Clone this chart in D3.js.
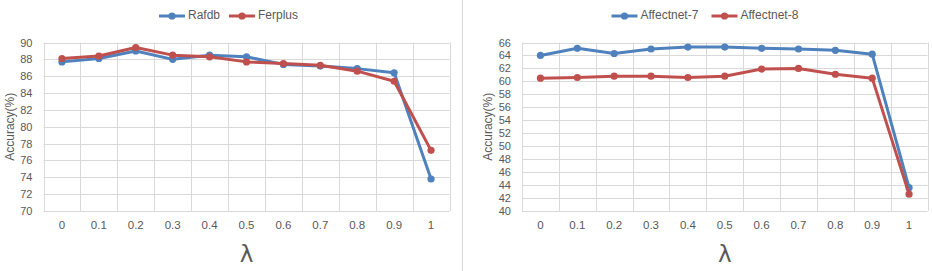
<!DOCTYPE html>
<html>
<head>
<meta charset="utf-8">
<script src="https://cdn.jsdelivr.net/npm/d3@7"></script>
<style>
  body { margin: 0; background: #fff; }
  text { font-family: "Liberation Sans", "Open Sans", sans-serif; }
</style>
</head>
<body>
<svg id="chart" width="932" height="271"></svg>
<script>
const lambdas = ["0", "0.1", "0.2", "0.3", "0.4", "0.5", "0.6", "0.7", "0.8", "0.9", "1"];

const rafdb    = [87.7, 88.1, 89.0, 88.0, 88.5, 88.3, 87.4, 87.2, 86.9, 86.4, 73.8];
const ferplus  = [88.1, 88.4, 89.4, 88.5, 88.3, 87.7, 87.5, 87.3, 86.6, 85.4, 77.2];
const affect7  = [64.0, 65.1, 64.3, 65.0, 65.3, 65.3, 65.1, 65.0, 64.8, 64.2, 43.6];
const affect8  = [60.5, 60.6, 60.8, 60.8, 60.6, 60.8, 61.9, 62.0, 61.1, 60.5, 42.6];

const leftTicks  = [70, 72, 74, 76, 78, 80, 82, 84, 86, 88, 90];
const rightTicks = [40, 42, 44, 46, 48, 50, 52, 54, 56, 58, 60, 62, 64, 66];

const BLUE = "#4F81BD", RED = "#C0504D", GRID = "#d9d9d9", TXT = "#595959";
const FONT = '"Liberation Sans", "Open Sans", sans-serif';

const svg = d3.select("#chart");

// divider between panels
svg.append("line").attr("x1", 462.5).attr("x2", 462.5).attr("y1", 0).attr("y2", 271)
  .attr("stroke", "#d9d9d9").attr("stroke-width", 1);

function panel(cfg) {
  const g = svg.append("g");
  const x = d3.scaleBand().domain(lambdas).range([cfg.x0, cfg.x1]);
  const y = d3.scaleLinear().domain([cfg.ticks[0], cfg.ticks[cfg.ticks.length - 1]]).range([cfg.y1, cfg.y0]);

  // horizontal grid
  g.append("g").selectAll("line").data(cfg.ticks).join("line")
    .attr("x1", cfg.x0).attr("x2", cfg.x1)
    .attr("y1", d => Math.round(y(d)) + 0.5).attr("y2", d => Math.round(y(d)) + 0.5)
    .attr("stroke", GRID);
  // vertical grid (band boundaries)
  const bounds = lambdas.map(d => x(d)).concat([cfg.x1]);
  g.append("g").selectAll("line").data(bounds).join("line")
    .attr("x1", d => Math.round(d) + 0.5).attr("x2", d => Math.round(d) + 0.5)
    .attr("y1", cfg.y0).attr("y2", cfg.y1)
    .attr("stroke", GRID);

  // y axis labels
  const yAxis = d3.axisLeft(y).tickValues(cfg.ticks).tickSize(0).tickPadding(0);
  const ya = g.append("g").attr("transform", `translate(${cfg.x0 - 11},0)`).call(yAxis);
  ya.select(".domain").remove();
  ya.selectAll("text").attr("fill", TXT).style("font-size", "11px").style("font-family", FONT);

  // x axis labels
  const xAxis = d3.axisBottom(x).tickSize(0).tickPadding(0);
  const xa = g.append("g").attr("transform", `translate(0,${cfg.y1 + 10})`).call(xAxis);
  xa.select(".domain").remove();
  xa.selectAll("text").attr("fill", TXT).style("font-size", "11.5px").style("font-family", FONT);

  // y title
  g.append("text")
    .attr("transform", `translate(${cfg.titleX},${(cfg.y0 + cfg.y1) / 2}) rotate(-90)`)
    .attr("text-anchor", "middle").attr("dominant-baseline", "middle")
    .attr("fill", TXT).style("font-size", "12px").text("Accuracy(%)");

  // lambda
  g.append("text").attr("x", (cfg.x0 + cfg.x1) / 2).attr("y", 262)
    .attr("text-anchor", "middle").attr("fill", TXT)
    .style("font-size", "23px")
    .style("font-family", '"DejaVu Sans", sans-serif').text("λ");

  const line = d3.line().x((d, i) => x(lambdas[i]) + x.bandwidth() / 2).y(d => y(d));
  cfg.series.forEach(s => {
    g.append("path").datum(s.values).attr("d", line)
      .attr("fill", "none").attr("stroke", s.color).attr("stroke-width", 3)
      .attr("stroke-linejoin", "round").attr("stroke-linecap", "round");
    g.append("g").selectAll("circle").data(s.values).join("circle")
      .attr("cx", (d, i) => x(lambdas[i]) + x.bandwidth() / 2)
      .attr("cy", d => y(d)).attr("r", 3.6).attr("fill", s.color);
  });

  // legend
  cfg.series.forEach(s => {
    const lg = g.append("g");
    lg.append("line").attr("x1", s.lx).attr("x2", s.lx + 26).attr("y1", 16).attr("y2", 16)
      .attr("stroke", s.color).attr("stroke-width", 3);
    lg.append("circle").attr("cx", s.lx + 13).attr("cy", 16).attr("r", 3.6).attr("fill", s.color);
    lg.append("text").attr("x", s.lx + 29).attr("y", 16).attr("dominant-baseline", "middle")
      .attr("fill", TXT).style("font-size", "12px").text(s.name);
  });
}

panel({
  x0: 43.5, x1: 449.5, y0: 42.5, y1: 211, ticks: leftTicks, titleX: 11,
  series: [
    { name: "Rafdb", values: rafdb, color: BLUE, lx: 159 },
    { name: "Ferplus", values: ferplus, color: RED, lx: 229 }
  ]
});

panel({
  x0: 522, x1: 927.5, y0: 42.5, y1: 211, ticks: rightTicks, titleX: 489,
  series: [
    { name: "Affectnet-7", values: affect7, color: BLUE, lx: 611.5 },
    { name: "Affectnet-8", values: affect8, color: RED, lx: 711.5 }
  ]
});
</script>
</body>
</html>
